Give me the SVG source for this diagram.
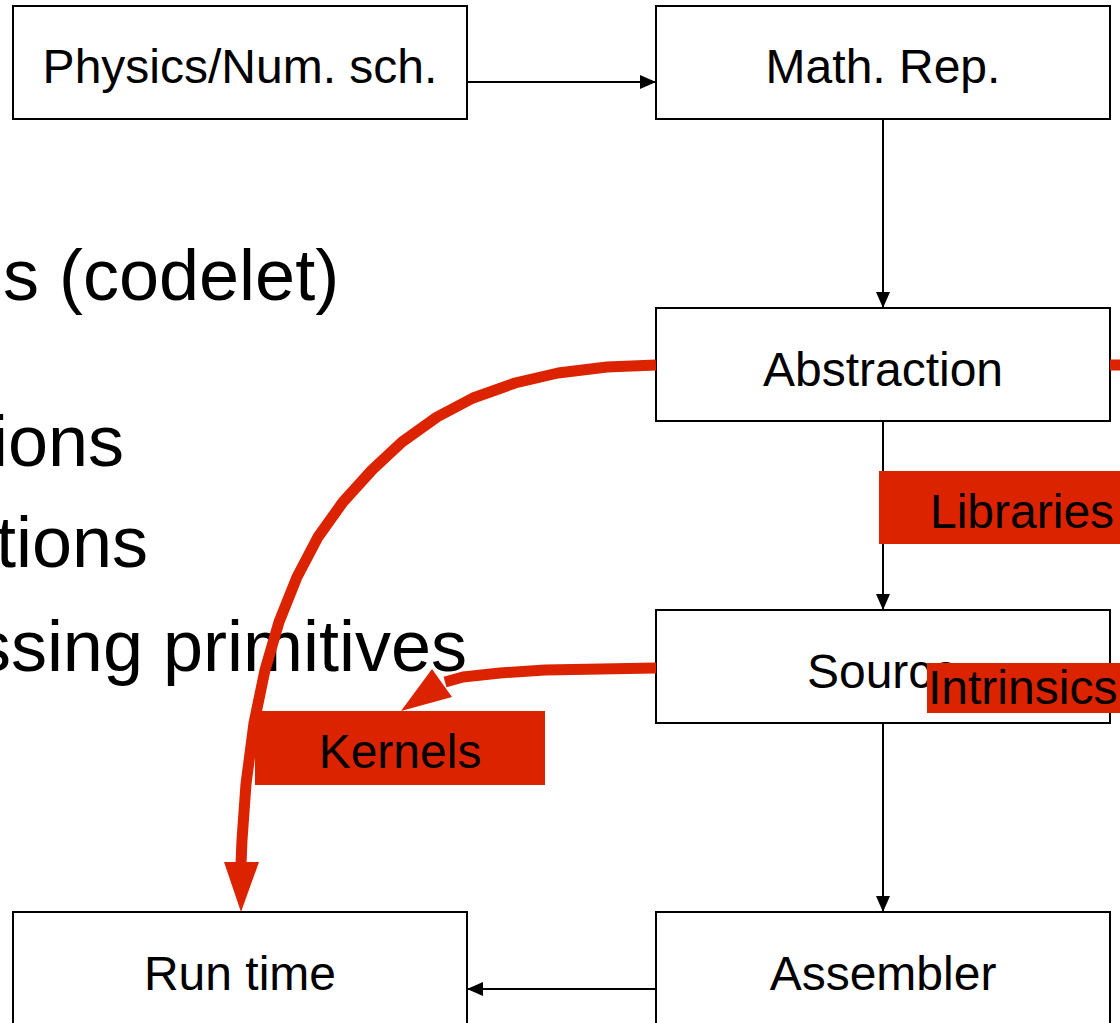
<svg xmlns="http://www.w3.org/2000/svg" width="1120" height="1023" viewBox="0 0 1120 1023">
  <style>
    .box { fill: #ffffff; stroke: #000000; stroke-width: 2; }
    .lbl { font-family: "Liberation Sans", Arial, sans-serif; font-size: 48px; fill: #000000; text-anchor: middle; }
    .big { font-family: "Liberation Sans", Arial, sans-serif; font-size: 72px; fill: #000000; }
    .conn { fill: none; stroke: #000000; stroke-width: 2; }
    .red { fill: #dc2300; }
    .redline { fill: none; stroke: #dc2300; stroke-width: 11; stroke-linejoin: round; }
    .tag { font-family: "Liberation Sans", Arial, sans-serif; font-size: 48px; fill: #000000; }
  </style>
  <defs>
    <marker id="ah" markerUnits="userSpaceOnUse" markerWidth="16" markerHeight="14" refX="16" refY="7" orient="auto">
      <path d="M0,0 L16,7 L0,14 z" fill="#000000"/>
    </marker>
  </defs>
  <rect width="1120" height="1023" fill="#ffffff"/>

  <g id="background-text">
    <text class="big" x="3" y="300">s (codelet)</text>
    <text class="big" x="124" y="466" text-anchor="end">ions</text>
    <text class="big" x="148" y="567" text-anchor="end">tions</text>
    <text class="big" x="467" y="671" text-anchor="end">ssing primitives</text>
  </g>

  <g id="node-physics">
    <rect class="box" x="13" y="6" width="454" height="113"/>
    <text class="lbl" x="240" y="83">Physics/Num. sch.</text>
  </g>
  <g id="node-math">
    <rect class="box" x="656" y="6" width="454" height="113"/>
    <text class="lbl" x="883" y="83">Math. Rep.</text>
  </g>
  <g id="node-abstraction">
    <rect class="box" x="656" y="308" width="454" height="113"/>
    <text class="lbl" x="883" y="386">Abstraction</text>
  </g>
  <g id="node-source">
    <rect class="box" x="656" y="610" width="454" height="113"/>
    <text class="lbl" x="883" y="688">Source</text>
  </g>
  <g id="node-assembler">
    <rect class="box" x="656" y="912" width="454" height="116"/>
    <text class="lbl" x="883" y="990">Assembler</text>
  </g>
  <g id="node-runtime">
    <rect class="box" x="13" y="912" width="454" height="116"/>
    <text class="lbl" x="240" y="990">Run time</text>
  </g>

  <g id="connectors">
    <line class="conn" x1="467" y1="82" x2="656" y2="82" marker-end="url(#ah)"/>
    <line class="conn" x1="883" y1="119" x2="883" y2="308" marker-end="url(#ah)"/>
    <line class="conn" x1="883" y1="421" x2="883" y2="610" marker-end="url(#ah)"/>
    <line class="conn" x1="883" y1="723" x2="883" y2="912" marker-end="url(#ah)"/>
    <line class="conn" x1="656" y1="989" x2="467" y2="989" marker-end="url(#ah)"/>
    <polyline class="redline" points="656,365 607,367 558,373 515,383 473,398 437,417 402,442 372,470 343,502 318,537 297,577 279,622 265,670 254,723 246,784 242,840 241,864"/>
    <polygon class="red" points="224,862 259,862 241,912"/>
    <polyline class="redline" points="656,668 545,670 500,673 463,677 445,682"/>
    <polygon class="red" points="432,669 452,697 401,711"/>
    <line class="redline" x1="1110" y1="365" x2="1125" y2="365"/>
  </g>

  <g id="node-libraries">
    <rect class="red" x="879" y="471" width="245" height="73"/>
    <text class="tag" x="930" y="528">Libraries</text>
  </g>
  <g id="node-intrinsics">
    <rect class="red" x="927" y="663" width="197" height="50"/>
    <text class="tag" x="928" y="704">Intrinsics</text>
  </g>
  <g id="node-kernels">
    <rect class="red" x="255" y="711" width="290" height="74"/>
    <text class="lbl" x="400" y="768">Kernels</text>
  </g>
</svg>
